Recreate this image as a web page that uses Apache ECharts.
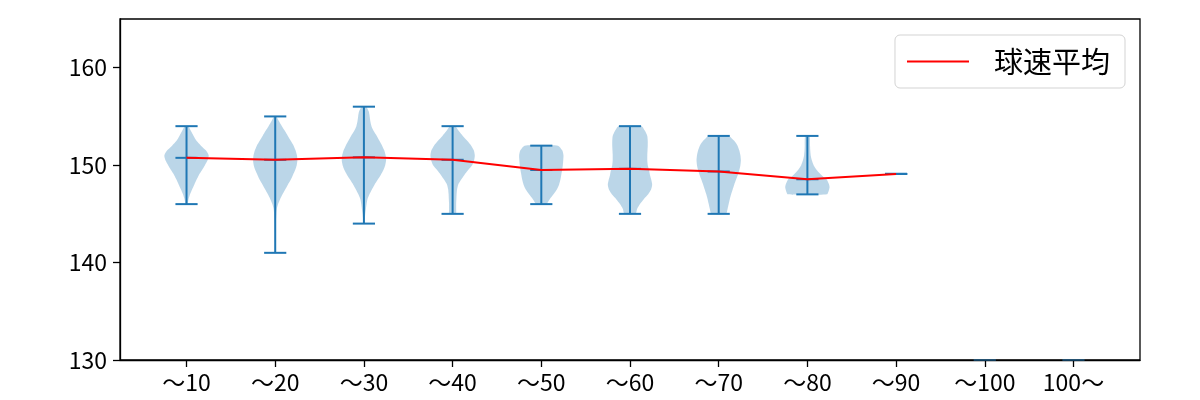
<!DOCTYPE html>
<html>
<head>
<meta charset="utf-8">
<script src="https://cdn.jsdelivr.net/npm/echarts@6/dist/echarts.min.js"></script>
<style>html,body{margin:0;padding:0;background:#fff}#c{width:1200px;height:400px}</style>
</head>
<body>
<div id="c"></div>
<script>
// ---- data ----
const categories = ['～10', '～20', '～30', '～40', '～50', '～60', '～70', '～80', '～90', '～100', '100～'];
const yTicks = [130, 140, 150, 160];
const minValues = [146, 141, 144, 145, 146, 145, 145, 147, 149.1, null, null];
const maxValues = [154, 155, 156, 154, 152, 154, 153, 153, 149.1, null, null];
const meanValues = [150.75, 150.55, 150.8, 150.55, 149.5, 149.62, 149.35, 148.55, 149.1, null, null];
// density outline per category: [value, relative half-width]
const profile10 = [[146,0.04],[146.5,0.09],[147,0.16],[147.5,0.25],[148,0.35],[148.5,0.45],[149,0.56],[149.5,0.7],[150,0.83],[150.5,0.95],[151,1.0],[151.5,0.88],[152,0.65],[152.5,0.45],[153,0.32],[153.5,0.2],[154,0.08]];
const profile20 = [[141,0.01],[142,0.015],[143,0.02],[144,0.03],[145,0.05],[145.5,0.07],[146,0.13],[146.5,0.22],[147,0.33],[147.5,0.45],[148,0.57],[148.5,0.7],[149,0.8],[149.5,0.9],[150,0.97],[150.5,1.0],[151,0.98],[151.5,0.92],[152,0.83],[152.5,0.7],[153,0.57],[153.5,0.44],[154,0.3],[154.5,0.17],[155,0.05]];
const profile30 = [[144,0.02],[144.5,0.04],[145,0.06],[145.5,0.09],[146,0.12],[146.5,0.16],[147,0.25],[147.5,0.36],[148,0.48],[148.5,0.62],[149,0.76],[149.5,0.88],[150,0.96],[150.5,1.0],[151,0.98],[151.5,0.92],[152,0.82],[152.5,0.7],[153,0.58],[153.5,0.44],[154,0.34],[154.5,0.29],[155,0.26],[155.5,0.22],[156,0.1]];
const profile40 = [[145,0.15],[145.5,0.16],[146,0.16],[146.5,0.17],[147,0.18],[147.5,0.2],[148,0.25],[148.5,0.38],[149,0.53],[149.5,0.7],[150,0.88],[150.5,0.97],[151,1.0],[151.5,0.96],[152,0.84],[152.5,0.66],[153,0.46],[153.5,0.28],[154,0.12]];
const profile50 = [[146,0.22],[146.5,0.38],[147,0.55],[147.5,0.7],[148,0.8],[148.5,0.86],[149,0.9],[149.5,0.94],[150,0.97],[150.5,0.99],[151,1.0],[151.5,0.95],[152,0.75]];
const profile60 = [[145,0.25],[145.5,0.32],[146,0.45],[146.5,0.62],[147,0.82],[147.5,0.95],[148,1.0],[148.5,0.96],[149,0.9],[149.5,0.86],[150,0.8],[150.5,0.78],[151,0.78],[151.5,0.79],[152,0.8],[152.5,0.8],[153,0.78],[153.5,0.68],[154,0.52]];
const profile70 = [[145,0.33],[145.5,0.4],[146,0.45],[146.5,0.5],[147,0.56],[147.5,0.63],[148,0.7],[148.5,0.78],[149,0.86],[149.5,0.93],[150,0.98],[150.5,1.0],[151,0.98],[151.5,0.93],[152,0.85],[152.5,0.7],[153,0.45]];
const profile80 = [[147,0.88],[147.5,0.98],[147.75,1.0],[148,0.98],[148.5,0.88],[148.75,0.75],[149,0.63],[149.25,0.52],[149.5,0.42],[150,0.28],[150.5,0.2],[151,0.15],[151.5,0.13],[152,0.12],[153,0.1]];
const profiles = [profile10, profile20, profile30, profile40, profile50, profile60, profile70, profile80, [], [], []];

const positions = categories.map((_, i) => i + 1);
const BLUE = '#1f77b4';
const HALF_BODY = 0.25;  // half of violin width in x units
const HALF_CAP = 0.125;

const chart = echarts.init(document.getElementById('c'), null, {renderer: 'canvas'});
const FONT = '"Noto Sans CJK JP", "Noto Sans", sans-serif';

function renderViolin(params, api) {
  const i = params.dataIndex;
  const pos = positions[i];
  const prof = profiles[i];
  const children = [];
  if (prof.length) {
    const right = [], left = [];
    prof.forEach(([v, w]) => {
      right.push(api.coord([pos + w * HALF_BODY, v]));
      left.push(api.coord([pos - w * HALF_BODY, v]));
    });
    const pts = right.concat(left.reverse());
    children.push({type: 'polygon', shape: {points: pts, smooth: 0.2}, style: {fill: 'rgba(31,119,180,0.3)', stroke: null}});
  }
  const capLine = (v, w) => {
    const a = api.coord([pos - HALF_CAP, v]);
    const b = api.coord([pos + HALF_CAP, v]);
    return {type: 'line', shape: {x1: a[0], y1: a[1], x2: b[0], y2: b[1]}, style: {stroke: BLUE, lineWidth: w || 2}};
  };
  if (minValues[i] != null) {
    const a = api.coord([pos, minValues[i]]);
    const b = api.coord([pos, maxValues[i]]);
    children.push({type: 'line', shape: {x1: a[0], y1: a[1], x2: b[0], y2: b[1]}, style: {stroke: BLUE, lineWidth: 2}});
    children.push(capLine(minValues[i]));
    children.push(capLine(maxValues[i]));
    children.push(capLine(meanValues[i]));
  } else {
    children.push(capLine(yTicks[0], 1));
  }
  return {type: 'group', children};
}

const option = {
  animation: false,
  backgroundColor: '#fff',
  textStyle: {fontFamily: FONT},
  grid: {left: 120, right: 60, top: 19, bottom: 40, show: true, borderColor: '#000', borderWidth: 1.3, backgroundColor: 'transparent'},
  xAxis: {
    type: 'value', min: 0.25, max: 11.75,
    splitLine: {show: false},
    axisLine: {lineStyle: {color: '#000', width: 1.3}},
    axisTick: {customValues: positions, length: 7, lineStyle: {color: '#000', width: 1.3}},
    axisLabel: {customValues: positions, formatter: (v) => categories[Math.round(v) - 1], color: '#000', fontSize: 23, margin: 11, fontFamily: FONT}
  },
  yAxis: {
    type: 'value', min: 130, max: 165,
    splitLine: {show: false},
    axisLine: {show: true, lineStyle: {color: '#000', width: 1.3}},
    axisTick: {show: true, customValues: yTicks, length: 7, lineStyle: {color: '#000', width: 1.3}},
    axisLabel: {customValues: yTicks, color: '#000', fontSize: 23, margin: 13, fontFamily: FONT}
  },
  legend: {
    right: 75, top: 35,
    data: [{name: '球速平均', icon: 'rect'}],
    itemWidth: 62, itemHeight: 2,
    padding: [12, 15, 12, 12],
    backgroundColor: '#fff', borderColor: '#d3d3d3', borderWidth: 1, borderRadius: 5,
    textStyle: {fontSize: 29, color: '#000', fontFamily: FONT, padding: [0, 0, 0, 20], lineHeight: 29}
  },
  series: [
    {
      type: 'custom', name: 'violin', renderItem: renderViolin,
      data: positions.map(p => [p]), encode: {x: 0}, z: 2, silent: true
    },
    {
      type: 'line', name: '球速平均',
      data: positions.map((p, i) => [p, meanValues[i]]),
      symbol: 'none', lineStyle: {color: 'red', width: 2}, itemStyle: {color: 'red'}, z: 3
    }
  ]
};
chart.setOption(option);
</script>
</body>
</html>
